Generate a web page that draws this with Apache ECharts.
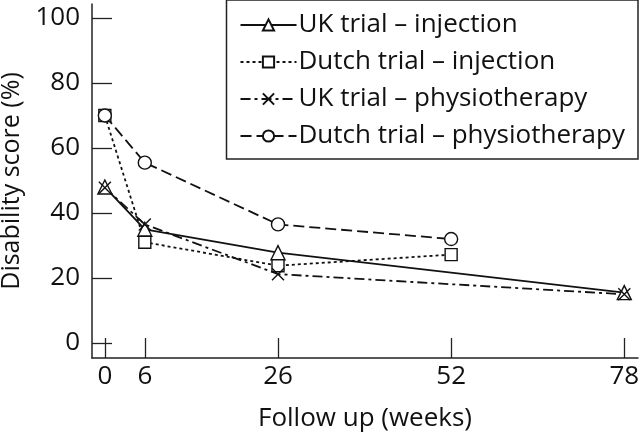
<!DOCTYPE html>
<html><head><meta charset="utf-8">
<script src="https://cdn.jsdelivr.net/npm/echarts@6/dist/echarts.min.js"></script>
<style>html,body{margin:0;padding:0;background:#fff}#c{width:640px;height:434px}</style>
</head><body><div id="c"></div>
<script>
const weeks = [0, 6, 26, 52, 78];
const xTicks = [0, 6, 26, 52, 78];
const yTicks = [0, 20, 40, 60, 80, 100];
const seriesNames = ['UK trial – injection', 'Dutch trial – injection', 'UK trial – physiotherapy', 'Dutch trial – physiotherapy'];
const ukInjection = [[0, 48], [6, 35], [26, 27.8], [78, 15.5]];
const dutchInjection = [[0, 70], [6, 31], [26, 23.8], [52, 27.2]];
const ukPhysio = [[0, 47.8], [6, 36.5], [26, 21.2], [78, 15]];
const dutchPhysio = [[0, 70], [6, 55.5], [26, 36.5], [52, 32]];

const FONT = 'Open Sans';
const crossPath = 'path://M0,0L10,10M10,0L0,10';
function mk(name, data, lineType, symbol, size) {
  return {
    name, type: 'line', data, symbol, symbolSize: size,
    lineStyle: { color: '#111', width: 1.8, type: lineType },
    itemStyle: { color: '#fff', borderColor: '#111', borderWidth: 1.4 },
    emphasis: { disabled: true }, z: 3
  };
}
const chart = echarts.init(document.getElementById('c'));
chart.setOption({
  animation: false,
  backgroundColor: '#fff',
  grid: { left: 92, right: 2, top: 4, bottom: 76, containLabel: false, outerBoundsMode: 'none' },
  legend: {
    right: 2, top: 0, orient: 'vertical',
    backgroundColor: '#fff', borderColor: '#222', borderWidth: 1.5,
    padding: [12, 13, 10, 13], itemGap: 11, itemWidth: 56, itemHeight: 14,
    textStyle: { fontFamily: FONT, fontSize: 26, lineHeight: 26, color: '#111', padding: [0, 0, 0, -3] },
    data: seriesNames
  },
  xAxis: {
    type: 'value', min: -1.93, max: 80.06,
    name: 'Follow up (weeks)', nameLocation: 'middle', nameGap: 48,
    nameTextStyle: { fontFamily: FONT, fontSize: 26, color: '#111' },
    axisLine: { show: true, onZero: false, lineStyle: { color: '#222', width: 1.5 } },
    axisTick: { show: true, inside: true, length: 20, customValues: xTicks, lineStyle: { color: '#222', width: 1.3 } },
    axisLabel: { customValues: xTicks, fontFamily: FONT, fontSize: 26, color: '#111', margin: 6 },
    splitLine: { show: false }
  },
  yAxis: {
    type: 'value', min: -4.6, max: 104.3,
    name: 'Disability score (%)', nameLocation: 'middle', nameGap: 66, nameRotate: 90,
    nameTextStyle: { fontFamily: FONT, fontSize: 25, color: '#111' },
    axisLine: { show: true, onZero: false, lineStyle: { color: '#222', width: 1.5 } },
    axisTick: { show: true, inside: true, length: 20, customValues: yTicks, lineStyle: { color: '#222', width: 1.3 } },
    axisLabel: { customValues: yTicks, fontFamily: FONT, fontSize: 26, color: '#111', margin: 12 },
    splitLine: { show: false }
  },
  series: [
    mk(seriesNames[0], ukInjection, 'solid', 'triangle', 14),
    mk(seriesNames[1], dutchInjection, [3, 3], 'rect', 12),
    mk(seriesNames[2], ukPhysio, [10, 4, 3, 4], crossPath, 12),
    mk(seriesNames[3], dutchPhysio, [11, 5], 'circle', 13)
  ]
});
</script></body></html>
